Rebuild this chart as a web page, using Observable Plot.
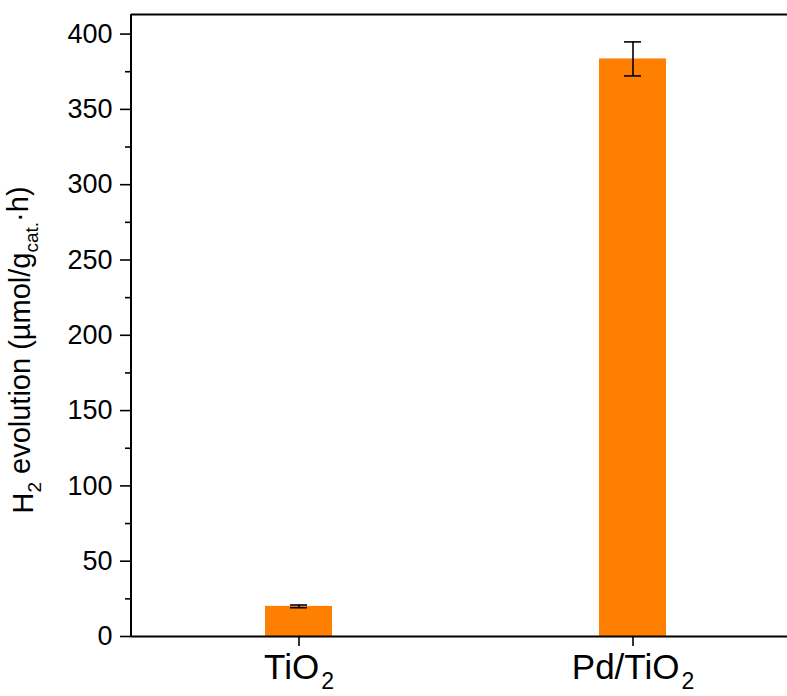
<!DOCTYPE html>
<html><head><meta charset="utf-8">
<script src="https://cdn.jsdelivr.net/npm/d3@7"></script>
<script src="https://cdn.jsdelivr.net/npm/@observablehq/plot@0.6"></script>
<style>body{margin:0;background:#fff}</style>
</head><body><div id="chart"></div>
<script>
const categories = ["TiO2", "Pd/TiO2"];
const values = [20, 383.5];
const errors = [0.9, 11.3];
const majorTicks = [0, 50, 100, 150, 200, 250, 300, 350, 400];
const minorTicks = [25, 75, 125, 175, 225, 275, 325, 375];
const data = categories.map((c, i) => ({name: c, v: values[i], lo: values[i] - errors[i], hi: values[i] + errors[i]}));
const ymax = 413;
const font = "Liberation Sans, Arial, Helvetica, sans-serif";

const plot = Plot.plot({
  width: 787, height: 696,
  marginLeft: 131, marginRight: 0, marginTop: 14, marginBottom: 60,
  style: {fontFamily: font, background: "#fff"},
  x: {domain: categories, range: [131, 799], paddingInner: 0.8, paddingOuter: 0.4, label: null},
  y: {domain: [0, ymax], label: null},
  marks: [
    Plot.barY(data, {x: "name", y: "v", fill: "#ff8000"}),
    Plot.ruleX(data, {x: "name", y1: "lo", y2: "hi", stroke: "#000", strokeWidth: 1.6}),
    Plot.tickY(data, {x: "name", y: "lo", stroke: "#000", strokeWidth: 1.6, insetLeft: 25, insetRight: 25}),
    Plot.tickY(data, {x: "name", y: "hi", stroke: "#000", strokeWidth: 1.6, insetLeft: 25, insetRight: 25}),
    Plot.axisY({ticks: majorTicks, tickSize: 11, tickPadding: 8, fontSize: 27, stroke: "#000", strokeWidth: 1.6, fill: "#000", label: null}),
    Plot.axisY({ticks: minorTicks, tickSize: 6, tickFormat: () => "", stroke: "#000", strokeWidth: 1.6, label: null}),
    Plot.axisX({tickSize: 10, tickPadding: 8, fontSize: 35, stroke: "#000", strokeWidth: 1.6, fill: "#000", label: null, tickFormat: d => d}),
    Plot.ruleY([0], {stroke: "#000", strokeWidth: 2}),
    Plot.ruleY([ymax], {stroke: "#000", strokeWidth: 2})
  ]
});
document.getElementById("chart").appendChild(plot);

// subscripts in x tick labels
const svg = d3.select(plot);
svg.selectAll("g[aria-label='x-axis tick label'] text").each(function() {
  const t = d3.select(this);
  const s = t.text();
  if (s.endsWith("2")) {
    t.text(null);
    t.append("tspan").text(s.slice(0, -1));
    t.append("tspan").attr("font-size", 23).attr("dx", 2).attr("dy", "0.42em").text("2");
  }
});
// left axis line
svg.append("line").attr("x1", 131).attr("x2", 131).attr("y1", 14).attr("y2", 636)
  .attr("stroke", "#000").attr("stroke-width", 2);
// y axis label
const lab = svg.append("text").attr("transform", "translate(33,350) rotate(-90)")
  .attr("text-anchor", "middle").attr("font-size", 29).attr("fill", "#000").attr("font-family", font);
lab.append("tspan").text("H");
lab.append("tspan").attr("font-size", 19).attr("dy", "0.4em").text("2");
lab.append("tspan").attr("dy", "-0.35em").text(" evolution (µmol/g");
lab.append("tspan").attr("font-size", 19).attr("dy", "0.4em").text("cat.");
lab.append("tspan").attr("dy", "-0.35em").text("·h)");
</script></body></html>
